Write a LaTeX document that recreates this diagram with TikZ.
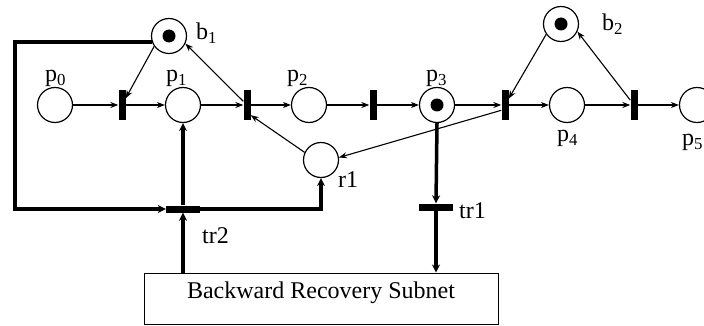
\documentclass[tikz,border=0pt]{standalone}
\usepackage{fontspec}
\setmainfont{Liberation Serif}
\usetikzlibrary{arrows.meta}
\begin{document}
\begin{tikzpicture}[x=1pt,y=-1pt,
  font=\fontsize{24}{28}\selectfont,
  place/.style={circle,draw,line width=1.2pt,minimum size=35pt,inner sep=0pt},
  vtrans/.style={rectangle,fill=black,minimum width=7pt,minimum height=30pt,inner sep=0pt},
  htrans/.style={rectangle,fill=black,minimum width=34pt,minimum height=7pt,inner sep=0pt},
  arc/.style={line width=1.1pt,-{Stealth[length=8pt,width=6pt]}},
  boldarc/.style={line width=3.5pt,-{Stealth[length=8pt,width=8pt]}},
  lbl/.style={inner sep=0pt,anchor=base west},
  boxstyle/.style={draw,line width=1pt,inner sep=0pt,anchor=base,text height=25pt,text depth=26pt,minimum width=354pt}]
\useasboundingbox (0,0) rectangle (704,326);
\clip (0,0) rectangle (704,326);

% places
\node[place] (p0) at (55,105) {};
\node[place] (p1) at (183,105) {};
\node[place] (p2) at (309,105) {};
\node[place] (p3) at (437,105) {};
\node[place] (p4) at (567,105) {};
\node[place] (p5) at (697,105) {};
\node[place] (b1) at (169,36) {};
\node[place] (b2) at (561,24) {};
\node[place] (r1) at (321,160) {};

% tokens
\fill (b1) circle (6.5pt);
\fill (p3) circle (6.5pt);
\fill (b2) circle (6.5pt);

% transitions
\node[vtrans] (t1) at (122,105) {};
\node[vtrans] (t2) at (247,105) {};
\node[vtrans] (t3) at (373,105) {};
\node[vtrans] (t4) at (505,105) {};
\node[vtrans] (t5) at (634,105) {};
\node[htrans] (tr1) at (436,207) {};
\node[htrans] (tr2) at (183,209) {};

% subnet box
\node[boxstyle] (brs) at (321,298) {Backward Recovery Subnet};

% labels
\node[lbl] (lp0) at (45,82) {p\textsubscript{0}};
\node[lbl] (lp1) at (166,82) {p\textsubscript{1}};
\node[lbl] (lp2) at (287,82) {p\textsubscript{2}};
\node[lbl] (lp3) at (426,82) {p\textsubscript{3}};
\node[lbl] (lp4) at (557,142) {p\textsubscript{4}};
\node[lbl] (lp5) at (682,146) {p\textsubscript{5}};
\node[lbl] (lb1) at (196,40) {b\textsubscript{1}};
\node[lbl] (lb2) at (602,31) {b\textsubscript{2}};
\node[lbl] (lr1) at (338,187) {r1};
\node[lbl] (ltr2) at (202,243) {tr2};
\node[lbl] (ltr1) at (459,218) {tr1};

% main chain
\draw[arc] (p0) -- (t1);
\draw[arc] (t1) -- (p1);
\draw[arc] (p1) -- (t2);
\draw[arc] (t2) -- (p2);
\draw[arc] (p2) -- (t3);
\draw[arc] (t3) -- (p3);
\draw[arc] (p3) -- (t4);
\draw[arc] (t4) -- (p4);
\draw[arc] (p4) -- (t5);
\draw[arc] (t5) -- (p5);

% side places
\draw[arc] (b1.215) -- (t1);
\draw[arc] (t2) -- (b1.-25);
\draw[arc] (r1.155) -- (t2.-70);
\draw[arc] (t4.235) -- (r1.8);
\draw[arc] (b2.215) -- (t4);
\draw[arc] (t5) -- (b2.-25);

% bold recovery arcs
\coordinate (cl) at (15,209);
\draw[boldarc] (b1.200) -| (cl) -- (tr2.west);
\draw[boldarc] (tr2.east) -| (r1.south);
\draw[boldarc] (tr2.north) -- (p1.south);
\draw[boldarc] (brs.north -| tr2) -- (tr2.south);
\draw[boldarc] (p3.south) -- (tr1.north);
\draw[boldarc] (tr1.south) -- (tr1.south |- brs.north);
\end{tikzpicture}
\end{document}
